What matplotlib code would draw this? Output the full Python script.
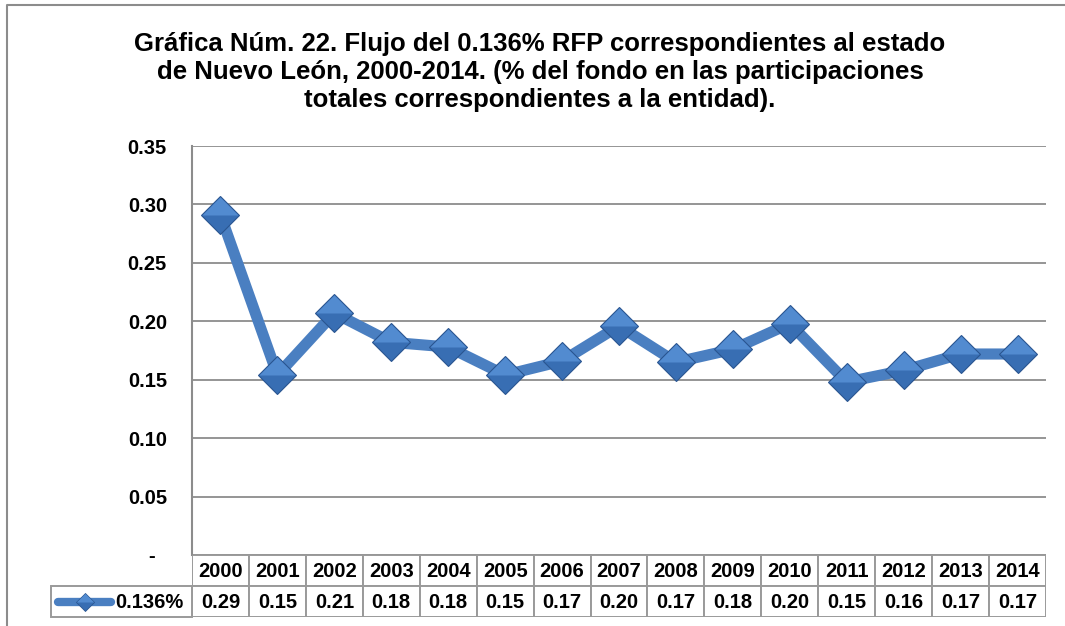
import matplotlib
matplotlib.use("Agg")
import matplotlib.pyplot as plt
from matplotlib.patches import Rectangle
from matplotlib.lines import Line2D
from matplotlib.path import Path

plt.rcParams['font.family'] = ['Liberation Sans', 'DejaVu Sans']
plt.rcParams['font.weight'] = 'bold'

years = ['2000', '2001', '2002', '2003', '2004', '2005', '2006', '2007',
         '2008', '2009', '2010', '2011', '2012', '2013', '2014']
values = [0.291, 0.154, 0.207, 0.182, 0.178, 0.154, 0.166, 0.196,
          0.165, 0.176, 0.198, 0.148, 0.158, 0.172, 0.172]
series_name = '0.136%'
yticks = [0, 0.05, 0.10, 0.15, 0.20, 0.25, 0.30, 0.35]
ytick_labels = ['-  ', '0.05', '0.10', '0.15', '0.20', '0.25', '0.30', '0.35']
title = ('Gráfica Núm. 22. Flujo del 0.136% RFP correspondientes al estado\n'
         'de Nuevo León, 2000-2014. (% del fondo en las participaciones\n'
         'totales correspondientes a la entidad).')

W, H = 1065, 626
fig = plt.figure(figsize=(W / 100, H / 100), dpi=100)

line_col = '#4a7fc1'
dia_dark = '#386eb3'
dia_light = '#528bd0'
dia_edge = '#2a5590'
grid_col = '#8c8c8c'
fs = 14.5

# top half of a diamond for the shaded marker look
top_half = Path([(-1, 0), (0, 1), (1, 0), (-1, 0)],
                [Path.MOVETO, Path.LINETO, Path.LINETO, Path.CLOSEPOLY])

ax = fig.add_axes([192 / W, 1 - 555 / H, 854 / W, 409 / H])
x = list(range(len(years)))
ax.plot(x, values, color=line_col, lw=8, solid_joinstyle='miter', zorder=3)
ax.plot(x, values, ls='none', marker='D', ms=19, mfc=dia_dark,
        mec=dia_edge, mew=0.8, zorder=4)
ax.plot(x, values, ls='none', marker=top_half, ms=26, mfc=dia_light,
        mec='none', zorder=5)

ax.set_xlim(-0.5, len(years) - 0.5)
ax.set_ylim(0, 0.35)
ax.set_yticks(yticks)
ax.set_yticklabels(ytick_labels)
ax.set_xticks([])
ax.tick_params(axis='y', length=0, pad=18, labelsize=fs)
for lab in ax.get_yticklabels():
    lab.set_fontweight('bold')
ax.yaxis.grid(True, color=grid_col, lw=1.3)
ax.set_axisbelow(True)
for s in ['top', 'right', 'bottom']:
    ax.spines[s].set_visible(False)
ax.spines['left'].set_color(grid_col)
ax.spines['left'].set_linewidth(1.5)

# data table under the plot
tax = fig.add_axes([192 / W, 1 - 617 / H, 854 / W, 62 / H])
tax.set_xlim(-0.5, len(years) - 0.5)
tax.set_ylim(0, 2)
tax.axis('off')
cell_ec = '#9a9a9a'
for i, (yr, v) in enumerate(zip(years, values)):
    tax.add_patch(Rectangle((i - 0.5, 1), 1, 1, fc='white', ec=cell_ec, lw=1.4))
    tax.add_patch(Rectangle((i - 0.5, 0), 1, 1, fc='white', ec=cell_ec, lw=1.4))
    tax.text(i, 1.47, yr, ha='center', va='center', fontsize=fs, fontweight='bold')
    tax.text(i, 0.47, f'{v:.2f}', ha='center', va='center', fontsize=fs,
             fontweight='bold')

unit = 854 / 15
leg_left = -0.5 - (192 - 51) / unit
tax.add_patch(Rectangle((leg_left, 0), -0.5 - leg_left, 1, fc='white',
                        ec=cell_ec, lw=1.4, clip_on=False))
lx0 = -0.5 - (192 - 58) / unit
lx1 = -0.5 - (192 - 111) / unit
tax.plot([lx0, lx1], [0.5, 0.5], color=line_col, lw=6, solid_capstyle='round',
         clip_on=False)
tax.plot([(lx0 + lx1) / 2], [0.5], marker='D', ms=9, mfc=dia_dark, mec=dia_edge,
         mew=0.6, clip_on=False)
tax.plot([(lx0 + lx1) / 2], [0.5], marker=top_half, ms=12.5, mfc=dia_light,
         mec='none', clip_on=False)
tax.text(-0.5 - 8 / unit, 0.47, series_name, ha='right', va='center',
         fontsize=fs, fontweight='bold', clip_on=False)

# outer chart frame (left and top edges visible)
fig.add_artist(Line2D([7 / W, 7 / W, 1], [0, 1 - 5 / H, 1 - 5 / H],
                      transform=fig.transFigure, color=grid_col, lw=1.5))

fig.text(540 / W, 1 - 72 / H, title, ha='center', va='center', fontsize=18.5,
         fontweight='bold', linespacing=1.2)

fig.savefig('out.png', dpi=100)
